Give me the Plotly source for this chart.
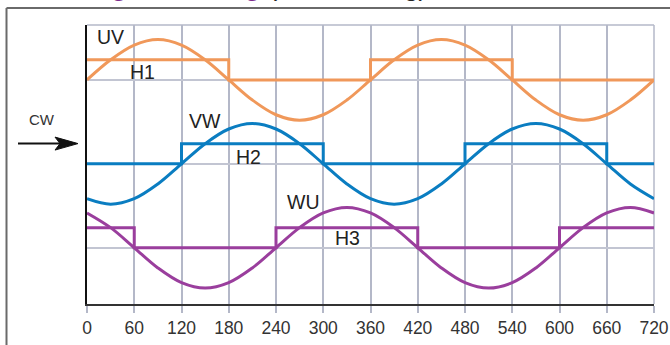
import plotly.graph_objects as go

# ---- data ----
angles = [0, 30, 60, 90, 120, 150, 180, 210, 240, 270, 300, 330, 360,
          390, 420, 450, 480, 510, 540, 570, 600, 630, 660, 690, 720]

uv_wave = [0, 0.48, 0.83, 0.96, 0.83, 0.48, 0, -0.48, -0.83, -0.96, -0.83, -0.48, 0,
           0.48, 0.83, 0.96, 0.83, 0.48, 0, -0.48, -0.83, -0.96, -0.83, -0.48, 0]
vw_wave = [-0.83, -0.96, -0.83, -0.48, 0, 0.48, 0.83, 0.96, 0.83, 0.48, 0, -0.48, -0.83,
           -0.96, -0.83, -0.48, 0, 0.48, 0.83, 0.96, 0.83, 0.48, 0, -0.48, -0.83]
wu_wave = [0.83, 0.48, 0, -0.48, -0.83, -0.96, -0.83, -0.48, 0, 0.48, 0.83, 0.96, 0.83,
           0.48, 0, -0.48, -0.83, -0.96, -0.83, -0.48, 0, 0.48, 0.83, 0.96, 0.83]

h1_x = [0, 180, 360, 540, 720]
h1_y = [0.48, 0, 0.48, 0, 0]
h2_x = [0, 120, 300, 480, 660, 720]
h2_y = [0, 0.48, 0, 0.48, 0, 0]
h3_x = [0, 60, 240, 420, 600, 720]
h3_y = [0.48, 0, 0.48, 0, 0.48, 0.48]

baselines = {"UV": 4, "VW": 2, "WU": 0}
tick_vals = [0, 60, 120, 180, 240, 300, 360, 420, 480, 540, 600, 660, 720]
tick_text = [str(v) for v in tick_vals]

ORANGE = "#F0985A"
BLUE = "#0A7DC1"
PURPLE = "#9A3E9D"
GRID = "#b4b8c8"

fig = go.Figure()

def add_channel(name, wave, hx, hy, color):
    b = baselines[name]
    fig.add_trace(go.Scatter(x=hx, y=[v + b for v in hy], mode="lines",
                             line=dict(color=color, width=3, shape="hv"),
                             hoverinfo="skip", showlegend=False))
    fig.add_trace(go.Scatter(x=angles, y=[v + b for v in wave], mode="lines",
                             line=dict(color=color, width=3, shape="spline", smoothing=1.0),
                             hoverinfo="skip", showlegend=False))

add_channel("UV", uv_wave, h1_x, h1_y, ORANGE)
add_channel("VW", vw_wave, h2_x, h2_y, BLUE)
add_channel("WU", wu_wave, h3_x, h3_y, PURPLE)

LABEL_FONT = dict(family="Liberation Sans, Arial, sans-serif", size=19.5, color="#222")
labels = [("UV", 30, 5.02), ("H1", 70, 4.195), ("VW", 150, 3.03),
          ("H2", 205, 2.17), ("WU", 275, 1.094), ("H3", 331, 0.24)]
annotations = []
for t, x, y in labels:
    annotations.append(dict(text=t, x=x, y=y, xref="x", yref="y", showarrow=False,
                            font=LABEL_FONT, xanchor="center", yanchor="middle"))

# pixel -> paper helpers for decorations
L, T, W, H = 87, 24.5, 567, 279.5
def px(xp):
    return (xp - L) / W
def py(yp):
    return (T + H - yp) / H

annotations.append(dict(text="CW", x=px(42), y=py(119), xref="paper", yref="paper",
                        showarrow=False, font=dict(family="Liberation Sans, Arial", size=15, color="#333"),
                        xanchor="center", yanchor="middle"))
annotations.append(dict(text="<b><span style='color:#7B2A8C'>Hall Signal Timing</span></b>"
                             "<span style='color:#222'> (CW rotating)</span>",
                        x=px(27), y=py(-15), xref="paper", yref="paper", showarrow=False,
                        font=dict(family="Liberation Sans, Arial", size=26.8),
                        xanchor="left", yanchor="middle"))

shapes = [
    # outer frame
    dict(type="line", xref="paper", yref="paper", x0=px(6.5), x1=px(680), y0=py(7.5), y1=py(7.5),
         line=dict(color="#6a6a6a", width=2)),
    dict(type="line", xref="paper", yref="paper", x0=px(6.5), x1=px(6.5), y0=py(7.5), y1=py(360),
         line=dict(color="#6a6a6a", width=2)),
    # plot top and right border
    dict(type="line", xref="paper", yref="paper", x0=0, x1=1, y0=1, y1=1,
         line=dict(color=GRID, width=1.5), layer="below"),
    dict(type="line", xref="paper", yref="paper", x0=1, x1=1, y0=0, y1=1,
         line=dict(color=GRID, width=1.5), layer="below"),
    # arrow shaft
    dict(type="line", xref="paper", yref="paper", x0=px(18), x1=px(64), y0=py(143.3), y1=py(143.3),
         line=dict(color="#111", width=2)),
    # arrow head
    dict(type="path", xref="paper", yref="paper",
         path=f"M {px(78)},{py(143.3)} L {px(55)},{py(136.8)} L {px(60)},{py(143.3)} L {px(55)},{py(149.8)} Z",
         fillcolor="#111", line=dict(color="#111", width=1)),
]

fig.update_layout(
    width=670, height=345,
    margin=dict(l=87, r=16, t=24.5, b=40.5, autoexpand=False),
    paper_bgcolor="white", plot_bgcolor="white",
    showlegend=False,
    annotations=annotations,
    shapes=shapes,
    xaxis=dict(range=[0, 720], tickvals=tick_vals, ticktext=tick_text,
               showgrid=True, gridcolor=GRID, gridwidth=1.5,
               ticks="outside", ticklen=7, tickcolor=GRID, tickwidth=1.5,
               showline=True, linecolor="#333", linewidth=1.5,
               zeroline=False, automargin=False,
               tickfont=dict(family="Liberation Sans, Arial", size=17.5, color="#333")),
    yaxis=dict(range=[-1.339, 5.308], tickvals=[0, 2, 4], showticklabels=False,
               showgrid=True, gridcolor="#c2c5d2", gridwidth=1.5,
               showline=True, linecolor="#111", linewidth=1.5,
               zeroline=False, ticks="", automargin=False),
)

fig.write_html("out.html", config={"displayModeBar": False},
               post_script="document.body.style.margin='0';")
